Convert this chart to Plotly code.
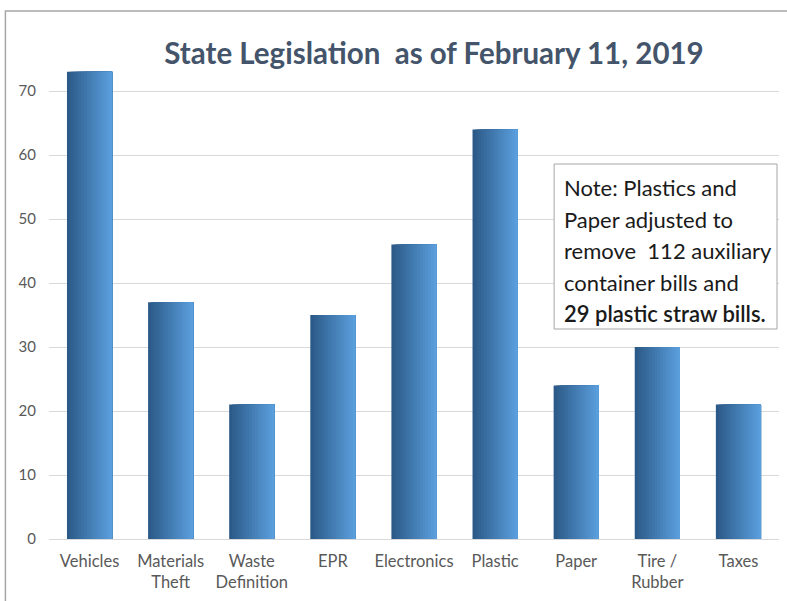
import plotly.graph_objects as go

categories = ["Vehicles", "Materials<br>Theft", "Waste<br>Definition", "EPR", "Electronics",
              "Plastic", "Paper", "Tire /<br>Rubber", "Taxes"]
values = [73, 37, 21, 35, 46, 64, 24, 30, 21]
y_ticks = [0, 10, 20, 30, 40, 50, 60, 70]

note_lines = ["Note: Plastics and", "Paper adjusted to", "remove  112 auxiliary",
              "container bills and", "29 plastic straw bills."]
note_weights = [400, 400, 400, 400, 600]

FONT = "Lato"
BAR_W = 0.557
N = 16
c0 = (0x2C, 0x5A, 0x88)
c1 = (0x5A, 0x9E, 0xDC)

fig = go.Figure()
for i in range(N):
    t = i / (N - 1)
    col = "rgb(%d,%d,%d)" % tuple(round(a + (b - a) * t) for a, b in zip(c0, c1))
    fig.add_trace(go.Bar(
        x=categories, y=values,
        width=BAR_W - i * BAR_W / N, offset=-BAR_W / 2 + i * BAR_W / N,
        marker=dict(color=col, line=dict(width=0)),
        hoverinfo="skip" if i else "x+y", showlegend=False,
    ))

fig.update_layout(
    width=787, height=601,
    margin=dict(l=48.6, r=8, t=59, b=62),
    barmode="overlay",
    plot_bgcolor="white", paper_bgcolor="white",
    font=dict(family=FONT, color="#595959", size=16),
    title=dict(text="State Legislation\u00a0 as of February 11, 2019",
               x=434 / 787, xanchor="center", y=1 - 54 / 601, yanchor="middle",
               font=dict(family=FONT, size=29.5, color="#44546A", weight="bold")),
    xaxis=dict(showgrid=False, showline=False, ticks="", tickfont=dict(size=16.5, color="#595959"),
               ticklabelstandoff=10, fixedrange=True),
    yaxis=dict(range=[0, 75], tickvals=y_ticks, showgrid=True, gridcolor="#D9D9D9", gridwidth=1,
               zeroline=True, zerolinecolor="#D9D9D9", zerolinewidth=1, ticks="",
               ticklabelstandoff=12, tickfont=dict(size=15, color="#595959"), fixedrange=True),
    shapes=[
        dict(type="rect", xref="paper", yref="paper",
             x0=(5 - 48.6) / 730.4, x1=1.05, y0=-0.3, y1=(539 - 11) / 480,
             line=dict(color="#A6A6A6", width=1.5), fillcolor="rgba(0,0,0,0)", layer="below"),
        dict(type="rect", xref="paper", yref="paper",
             x0=(554 - 48.6) / 730.4, x1=(777 - 48.6) / 730.4,
             y0=(539 - 329) / 480, y1=(539 - 164) / 480,
             line=dict(color="#A6A6A6", width=1), fillcolor="white", layer="above"),
    ],
)

line_y = [187, 219, 250, 282, 313]
for txt, yy, wt in zip(note_lines, line_y, note_weights):
    fig.add_annotation(text=txt, xref="paper", yref="paper",
                       x=(562 - 48.6) / 730.4, y=(539 - yy) / 480,
                       xanchor="left", yanchor="middle", showarrow=False,
                       font=dict(family=FONT, size=22, color="#1A1A1A", weight=wt))

fig.write_html("out.html")
